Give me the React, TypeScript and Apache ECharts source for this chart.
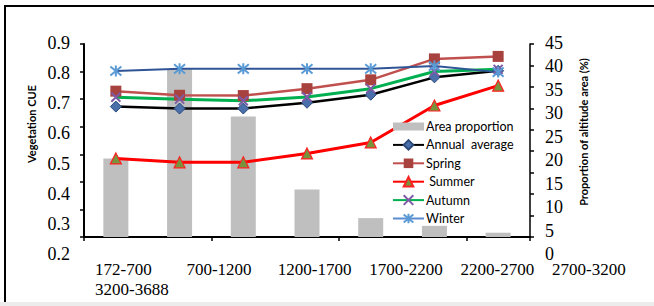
import React, { useEffect, useRef } from 'react';
import * as echarts from 'echarts';

const categories = ['172-700', '700-1200', '1200-1700', '1700-2200', '2200-2700', '2700-3200', '3200-3688'];
const xTickLabels = ['172-700\n3200-3688', '700-1200', '1200-1700', '1700-2200', '2200-2700', '2700-3200'];
const areaProportion = [18.3, 39.2, 28.1, 11.1, 4.4, 2.6, 1.0];
const annualAverage = [0.673, 0.666, 0.666, 0.687, 0.716, 0.779, 0.803];
const spring = [0.729, 0.714, 0.713, 0.738, 0.77, 0.846, 0.855];
const summer = [0.485, 0.471, 0.471, 0.503, 0.543, 0.677, 0.749];
const autumn = [0.707, 0.700, 0.694, 0.708, 0.738, 0.800, 0.808];
const winter = [0.802, 0.810, 0.810, 0.810, 0.810, 0.820, 0.798];
const leftTicks = [0.2, 0.3, 0.4, 0.5, 0.6, 0.7, 0.8, 0.9];
const rightTicks = [0, 5, 10, 15, 20, 25, 30, 35, 40, 45];
const legendNames = ['Area proportion', 'Annual  average', 'Spring', ' Summer', 'Autumn', 'Winter'];

const serif = "'Liberation Serif', 'Times New Roman', serif";
const sans = "Lato, 'Open Sans', sans-serif";

export default function App() {
  const ref = useRef<HTMLDivElement>(null);
  useEffect(() => {
    if (!ref.current) return;
    const chart = echarts.init(ref.current, null, { renderer: 'svg' });
    const lMin = leftTicks[0], lMax = leftTicks[leftTicks.length - 1];
    const rMin = rightTicks[0], rMax = rightTicks[rightTicks.length - 1];
    const xPath = 'path://M0,0L10,10M10,0L0,10';
    const starPath = 'path://M0,0L10,10M10,0L0,10M5,-1L5,11';
    const barIcon = 'path://M0,0L0.01,0M0,2H31V10H0ZM0,12L0.01,12';
    const option: any = {
      animation: false,
      backgroundColor: '#ffffff',
      grid: [
        { left: 84, width: 446, top: 44, height: 193 },
        { left: 84, width: 446, top: 43, height: 211 },
        { left: 95, width: 457, top: 100, height: 157 },
      ],
      xAxis: [
        {
          type: 'category', gridIndex: 0, data: categories, boundaryGap: true,
          axisLine: { lineStyle: { color: '#000', width: 2 } },
          axisTick: { show: true, length: 4, lineStyle: { color: '#000', width: 1.5 } },
          axisLabel: { show: false },
        },
        { type: 'category', gridIndex: 1, data: categories, show: false },
        {
          type: 'category', gridIndex: 2, data: xTickLabels, boundaryGap: false,
          axisLine: { show: false }, axisTick: { show: false },
          axisLabel: {
            interval: 0, align: 'left', margin: 3, fontFamily: serif, fontSize: 17,
            lineHeight: 19.5, color: '#000',
          },
        },
      ],
      yAxis: [
        {
          type: 'value', gridIndex: 0, min: lMin, max: lMax, interval: 0.1, position: 'left',
          splitLine: { show: false },
          axisLine: { show: true, lineStyle: { color: '#000', width: 2 } },
          axisTick: { show: true, length: 4, lineStyle: { color: '#000', width: 1.5 } },
          axisLabel: { show: false },
        },
        {
          type: 'value', gridIndex: 0, min: rMin, max: rMax, interval: 5, position: 'right',
          splitLine: { show: false },
          axisLine: { show: true, lineStyle: { color: '#000', width: 1.5 } },
          axisTick: { show: true, length: 4, lineStyle: { color: '#000', width: 1.5 } },
          axisLabel: { show: false },
        },
        {
          type: 'value', gridIndex: 1, min: lMin, max: lMax, interval: 0.1, position: 'left',
          splitLine: { show: false }, axisLine: { show: false }, axisTick: { show: false },
          axisLabel: {
            margin: 14, fontFamily: serif, fontSize: 18, color: '#000',
            formatter: (v: number) => v.toFixed(1),
          },
        },
        {
          type: 'value', gridIndex: 1, min: rMin, max: rMax, interval: 5, position: 'right',
          splitLine: { show: false }, axisLine: { show: false }, axisTick: { show: false },
          axisLabel: { margin: 15, fontFamily: serif, fontSize: 18, color: '#000' },
        },
        { type: 'value', gridIndex: 2, show: false, min: 0, max: 1 },
      ],
      legend: {
        orient: 'vertical', left: 387, top: 115, itemWidth: 31, itemHeight: 12, itemGap: 5.4,
        textStyle: { fontFamily: sans, fontSize: 12.5, color: '#000', padding: [0, 0, 0, -3] },
        data: [
          { name: legendNames[0], icon: barIcon },
          { name: legendNames[1] },
          { name: legendNames[2] },
          { name: legendNames[3] },
          { name: legendNames[4] },
          { name: legendNames[5], lineStyle: { color: '#5B8BD0' } },
        ],
      },
      graphic: [
        { type: 'line', shape: { x1: 5, y1: 6, x2: 654, y2: 6 }, style: { stroke: '#000', lineWidth: 2 } },
        { type: 'line', shape: { x1: 5, y1: 5, x2: 5, y2: 302 }, style: { stroke: '#000', lineWidth: 2 } },
        { type: 'rect', shape: { x: 0, y: 302, width: 654, height: 4 }, style: { fill: '#ececec' } },
        {
          type: 'text', x: 31, y: 124, rotation: Math.PI / 2,
          style: { text: 'Vegetation CUE', font: `bold 11px ${sans}`, fill: '#000', align: 'center', verticalAlign: 'middle' },
        },
        {
          type: 'text', x: 583, y: 132, rotation: Math.PI / 2,
          style: { text: 'Proportion of altitude area (%)', font: `bold 11px ${sans}`, fill: '#000', align: 'center', verticalAlign: 'middle' },
        },
      ],
      series: [
        {
          name: legendNames[0], type: 'bar', xAxisIndex: 0, yAxisIndex: 1, data: areaProportion,
          barWidth: 25, itemStyle: { color: '#BFBFBF' },
        },
        {
          name: legendNames[1], type: 'line', xAxisIndex: 0, yAxisIndex: 0, data: annualAverage,
          symbol: 'diamond', symbolSize: 11,
          lineStyle: { color: '#000', width: 2.5 },
          itemStyle: { color: '#4A6FAA', borderColor: '#2B4A7A', borderWidth: 1 },
        },
        {
          name: legendNames[2], type: 'line', xAxisIndex: 0, yAxisIndex: 0, data: spring,
          symbol: 'rect', symbolSize: 11,
          lineStyle: { color: '#C0504D', width: 2.5 },
          itemStyle: { color: '#A8423F' },
        },
        {
          name: legendNames[3], type: 'line', xAxisIndex: 0, yAxisIndex: 0, data: summer,
          symbol: 'triangle', symbolSize: 11,
          lineStyle: { color: '#FF0000', width: 3 },
          itemStyle: { color: '#77933C', borderColor: '#FF2020', borderWidth: 1.2 },
        },
        {
          name: legendNames[4], type: 'line', xAxisIndex: 0, yAxisIndex: 0, data: autumn,
          symbol: xPath, symbolSize: 9,
          lineStyle: { color: '#00B050', width: 3 },
          itemStyle: { color: 'rgba(0,0,0,0)', borderColor: '#7E5BA6', borderWidth: 2 },
        },
        {
          name: legendNames[5], type: 'line', xAxisIndex: 0, yAxisIndex: 0, data: winter,
          symbol: starPath, symbolSize: 11,
          lineStyle: { color: '#2F5597', width: 2 },
          itemStyle: { color: 'rgba(0,0,0,0)', borderColor: '#5B9BD5', borderWidth: 2 },
        },
      ],
    };
    chart.setOption(option);
    return () => chart.dispose();
  }, []);
  return <div ref={ref} style={{ position: 'fixed', left: 0, top: 0, width: 654, height: 306 }} />;
}
